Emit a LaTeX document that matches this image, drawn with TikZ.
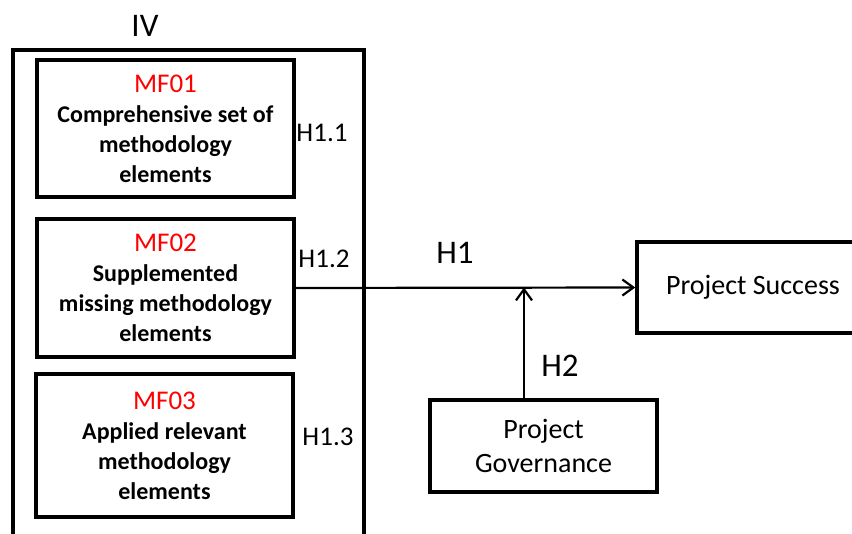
\documentclass[tikz,border=0pt]{standalone}
\usepackage{fontspec}
\setmainfont{Carlito}
\usepackage{xcolor}
\usetikzlibrary{positioning}
\usetikzlibrary{arrows.meta}
\usetikzlibrary{calc}

\begin{document}
\begin{tikzpicture}[x=1pt,y=-1pt,
  mfbox/.style={draw, line width=3.5pt, minimum width=257pt, align=center,
    font=\fontsize{24}{30}\selectfont\bfseries},
  varbox/.style={draw, line width=3.5pt, align=center,
    font=\fontsize{28}{34}\selectfont},
  hlabel/.style={font=\fontsize{27}{30}\selectfont},
  biglabel/.style={font=\fontsize{33}{36}\selectfont},
  link/.style={-{Straight Barb[length=11pt,width=16pt]}, line width=2.2pt}]
\useasboundingbox (0,0) rectangle (852,534);

% independent variables
\draw[line width=3.5pt] (13,560) -- (13,50) -- (364,50) -- (364,560);
\node[biglabel] (iv) at (145,26) {IV};

\node[mfbox, minimum height=137pt] (mf1) at (165.5,128.5)
  {\textcolor{red}{\mdseries\fontsize{27}{30}\selectfont MF01}\\Comprehensive set of\\methodology\\elements};
\node[mfbox, minimum height=138pt] (mf2) at (165.5,288)
  {\textcolor{red}{\mdseries\fontsize{27}{30}\selectfont MF02}\\Supplemented\\missing methodology\\elements};
\node[mfbox, minimum height=143pt] (mf3) at (164.5,445.5)
  {\textcolor{red}{\mdseries\fontsize{27}{30}\selectfont MF03}\\Applied relevant\\methodology\\elements};

\node[hlabel] (h11) at (322,133) {H1.1};
\node[hlabel] (h12) at (324,259) {H1.2};
\node[hlabel] (h13) at (328,437) {H1.3};

% dependent variable and moderator
\node[varbox, minimum width=232pt, minimum height=91pt] (ps) at (753,287.5) {Project Success};
\node[varbox, minimum width=227pt, minimum height=92pt] (pg) at (543.5,446) {Project\\Governance};

\coordinate (gov) at ([xshift=-19.5pt]pg.north);
\coordinate (mid) at (gov |- ps.west);
\draw[link] (mf2.east) -- (ps.west);
\draw[link] (gov) -- (mid);

\node[biglabel] (h1) at (455,253) {H1};
\node[biglabel] (h2) at (560,366) {H2};
\end{tikzpicture}
\end{document}
